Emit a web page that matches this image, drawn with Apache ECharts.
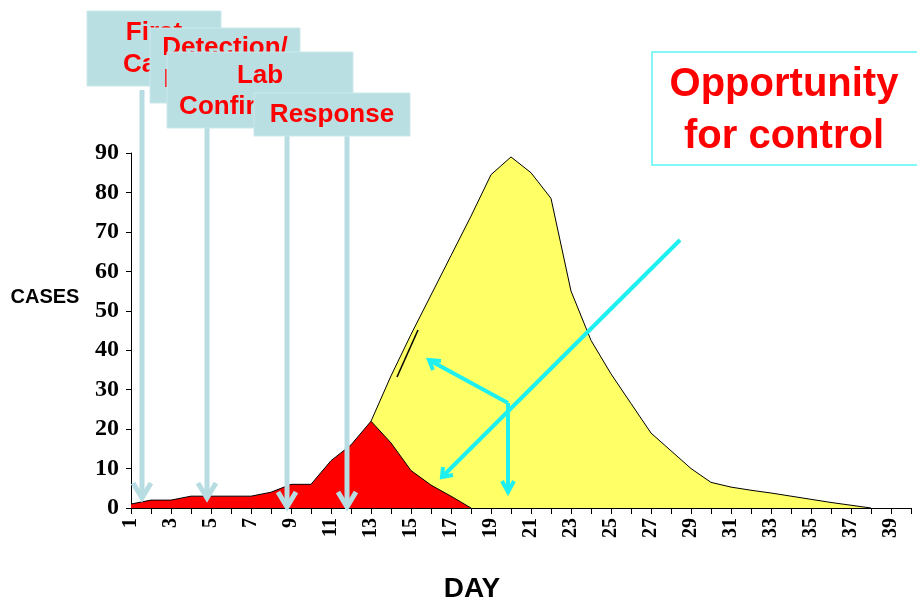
<!DOCTYPE html>
<html lang="en">
<head>
  <meta charset="UTF-8">
  <title>Opportunity for control</title>
  <script src="https://cdn.jsdelivr.net/npm/echarts@6/dist/echarts.min.js"></script>
  <style>
    html, body { margin: 0; padding: 0; background: #fff; }
    #container { width: 917px; height: 602px; }
  </style>
</head>
<body>
  <div id="container"></div>
  <script>
    // days 1..40 on the x axis
    const days = [];
    for (let d = 1; d <= 40; d++) days.push(String(d));

    // cases before the response (red)
    const earlyCases = [1, 2, 2, 3, 3, 3, 3, 4, 6, 6, 12, 16, 22, 16.5, 9.5, 5.8, 3, 0];

    // whole outbreak if nothing is done (yellow), starts on day 13
    const outbreakCases = [
      null, null, null, null, null, null, null, null, null, null, null, null,
      22, 33.5, 44, 54, 64, 74, 84.5, 89, 85, 78.5, 55, 42.5, 34, 26.5, 19, 14.5,
      10, 6.5, 5.3, 4.5, 3.8, 3, 2.2, 1.4, 0.7, 0
    ];

    const yTicks = [0, 10, 20, 30, 40, 50, 60, 70, 80, 90];

    const boxFill = '#b9dfe3';
    const arrowBlue = '#b7dde2';
    const cyan = '#1ef0f0';
    const labelFont = 'bold 26px "Liberation Sans", Arial, sans-serif';

    const chart = echarts.init(document.getElementById('container'));

    // annotation helpers
    let z = 100;
    function box(x, y, w, h, lines, cx, cy, lh) {
      return [
        { type: 'rect', z: z++, shape: { x: x, y: y, width: w, height: h },
          style: { fill: boxFill, stroke: '#cbe8eb', lineWidth: 1 } },
        { type: 'text', z: z++, style: { text: lines, x: cx, y: cy, align: 'center', verticalAlign: 'middle',
          font: labelFont, fill: '#ff0000', lineHeight: lh } }
      ];
    }
    function downArrow(x, y1, y2) {
      return [
        { type: 'line', z: 90, shape: { x1: x, y1: y1, x2: x, y2: y2 - 2 },
          style: { stroke: arrowBlue, lineWidth: 5 } },
        { type: 'polyline', z: 90, shape: { points: [[x - 9, y2 - 15], [x, y2], [x + 9, y2 - 15]] },
          style: { stroke: arrowBlue, lineWidth: 5, fill: null } }
      ];
    }
    function cyanLine(points, w) {
      return { type: 'polyline', z: 95, shape: { points: points },
        style: { stroke: cyan, lineWidth: w || 4, fill: null } };
    }

    const graphics = [].concat(
      downArrow(142, 90, 498),
      downArrow(207, 128, 498),
      downArrow(287, 136, 507),
      downArrow(347, 136, 507),
      box(87, 11, 134, 75, 'First\nCase', 154, 49, 32),
      box(150, 28, 150, 75, 'Detection/\nReporting', 225, 64, 32),
      box(167, 52, 186, 76, 'Lab\nConfirmation', 260, 91, 31),
      box(254, 93, 156, 43, 'Response', 332, 115, 30),
      [
        { type: 'rect', z: 120, shape: { x: 652, y: 52, width: 270, height: 113 },
          style: { fill: null, stroke: '#5ff5f5', lineWidth: 1.5 } },
        { type: 'text', z: 121, style: { text: 'Opportunity\nfor control', x: 784, y: 111,
          align: 'center', verticalAlign: 'middle', fill: '#ff0000', lineHeight: 52,
          font: 'bold 40px "Liberation Sans", Arial, sans-serif' } },
        { type: 'text', z: 121, style: { text: 'CASES', x: 45, y: 297, align: 'center', verticalAlign: 'middle',
          fill: '#000', font: 'bold 20px "Liberation Sans", Arial, sans-serif' } },
        { type: 'text', z: 121, style: { text: 'DAY', x: 472, y: 589, align: 'center', verticalAlign: 'middle',
          fill: '#000', font: 'bold 28px "Liberation Sans", Arial, sans-serif' } },
        // stray stroke on the rising edge
        { type: 'line', z: 96, shape: { x1: 397, y1: 377, x2: 418, y2: 330 },
          style: { stroke: '#000', lineWidth: 1.5 } },
        // cyan arrows
        cyanLine([[680, 240], [442, 477]]),
        cyanLine([[453, 475], [442, 477], [443, 467]]),
        cyanLine([[508, 403], [429, 360]]),
        cyanLine([[433, 370], [429, 360], [441, 361]]),
        cyanLine([[508, 403], [508, 492]]),
        cyanLine([[502, 481], [508, 492], [514, 481]])
      ]
    );

    const option = {
      animation: false,
      backgroundColor: '#fff',
      grid: { left: 131, right: 6, top: 153, bottom: 94, containLabel: false },
      xAxis: {
        type: 'category',
        data: days,
        boundaryGap: false,
        axisLine: { lineStyle: { color: '#000', width: 1 } },
        axisTick: { interval: 0, length: 6, lineStyle: { color: '#000' } },
        axisLabel: {
          interval: 1, rotate: 90, margin: 10, color: '#000',
          fontFamily: '"Liberation Serif", "Times New Roman", serif',
          fontWeight: 'bold', fontSize: 20
        },
        splitLine: { show: false }
      },
      yAxis: {
        type: 'value',
        min: yTicks[0], max: yTicks[yTicks.length - 1], interval: 10,
        axisLine: { show: true, lineStyle: { color: '#000', width: 1 } },
        axisTick: { show: true, length: 5, lineStyle: { color: '#000' } },
        axisLabel: {
          margin: 12, color: '#000',
          fontFamily: '"Liberation Serif", "Times New Roman", serif',
          fontWeight: 'bold', fontSize: 24
        },
        splitLine: { show: false }
      },
      series: [
        {
          name: 'Outbreak', type: 'line', data: outbreakCases,
          symbol: 'none', connectNulls: false, z: 2,
          lineStyle: { color: '#000', width: 1 },
          areaStyle: { color: '#ffff66', opacity: 1 }
        },
        {
          name: 'Before response', type: 'line', data: earlyCases,
          symbol: 'none', z: 3,
          lineStyle: { color: '#000', width: 1 },
          areaStyle: { color: '#ff0000', opacity: 1 }
        }
      ],
      graphic: graphics
    };

    chart.setOption(option);
  </script>
</body>
</html>
